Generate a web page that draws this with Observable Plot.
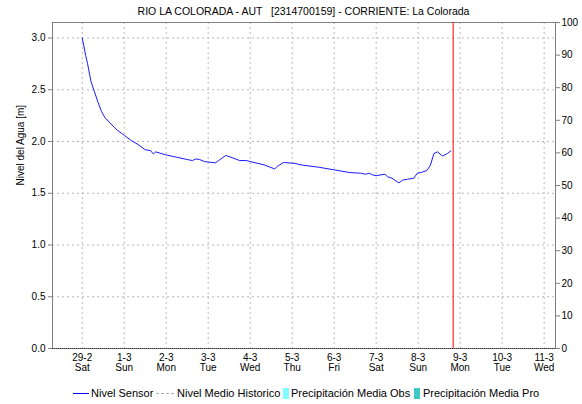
<!DOCTYPE html>
<html><head><meta charset="utf-8">
<script src="https://cdn.jsdelivr.net/npm/d3@7"></script>
<script src="https://cdn.jsdelivr.net/npm/@observablehq/plot@0.6"></script>
<style>
body{margin:0;background:#fff;font-family:"Liberation Sans",Arial,sans-serif;}
#wrap{position:relative;width:582px;height:404px;overflow:hidden;}
#title{position:absolute;top:5px;left:52px;width:503px;text-align:center;font-size:10.5px;white-space:pre;color:#000;line-height:12px;}
#chart{position:absolute;top:0;left:0;}
.lg{position:absolute;font-size:11px;line-height:12px;top:387px;color:#000;white-space:pre;}
.sw{position:absolute;}
</style></head>
<body><div id="wrap"><div id="title"></div><div id="chart"></div><div id="legend"></div></div>
<script>
const title = "RIO LA COLORADA - AUT   [2314700159] - CORRIENTE: La Colorada";
const yLabel = "Nivel del Agua [m]";
const times = ["2020-02-29T00:00","2020-02-29T02:00","2020-02-29T03:00","2020-02-29T05:00","2020-02-29T07:00","2020-02-29T09:00","2020-02-29T11:00","2020-02-29T13:00","2020-02-29T17:00","2020-02-29T20:00",
"2020-03-01T00:00","2020-03-01T04:00","2020-03-01T08:00","2020-03-01T12:00","2020-03-01T15:00","2020-03-01T16:40","2020-03-01T18:00",
"2020-03-02T00:00","2020-03-02T06:00","2020-03-02T12:00","2020-03-02T15:00","2020-03-02T17:00","2020-03-02T19:00","2020-03-02T22:00",
"2020-03-03T04:00","2020-03-03T06:00","2020-03-03T10:00","2020-03-03T13:00","2020-03-03T18:00","2020-03-03T22:00",
"2020-03-04T00:00","2020-03-04T08:00","2020-03-04T14:00","2020-03-04T15:30","2020-03-04T19:00",
"2020-03-05T01:00","2020-03-05T05:00","2020-03-05T15:00",
"2020-03-06T00:00","2020-03-06T09:00","2020-03-06T15:00","2020-03-06T18:00","2020-03-06T20:00","2020-03-06T22:00",
"2020-03-07T00:00","2020-03-07T05:00","2020-03-07T06:30","2020-03-07T09:00","2020-03-07T13:00","2020-03-07T15:00","2020-03-07T18:00","2020-03-07T21:30","2020-03-07T23:30",
"2020-03-08T01:30","2020-03-08T05:00","2020-03-08T07:00","2020-03-08T09:00","2020-03-08T11:00","2020-03-08T14:00","2020-03-08T16:40","2020-03-08T18:40"];
const levels = [3.00,2.83,2.755,2.58,2.48,2.38,2.29,2.23,2.16,2.11,
2.06,2.01,1.97,1.92,1.913,1.88,1.90,
1.87,1.848,1.826,1.816,1.832,1.826,1.806,
1.794,1.816,1.865,1.848,1.816,1.816,
1.806,1.774,1.735,1.76,1.797,
1.79,1.774,1.752,
1.726,1.70,1.694,1.684,1.694,1.677,
1.67,1.684,1.66,1.645,1.60,1.626,1.636,1.645,1.694,
1.70,1.72,1.77,1.884,1.90,1.86,1.884,1.91];
const nowLine = "2020-03-08T20:00";
const dayTickLabels = ["2020-02-29","2020-03-01","2020-03-02","2020-03-03","2020-03-04","2020-03-05","2020-03-06","2020-03-07","2020-03-08","2020-03-09","2020-03-10","2020-03-11"];
const weekdays = ["Sun","Mon","Tue","Wed","Thu","Fri","Sat"];
const leftTicks = [0,0.5,1.0,1.5,2.0,2.5,3.0];
const rightTicks = [0,10,20,30,40,50,60,70,80,90,100];
const legendLabels = ["Nivel Sensor","Nivel Medio Historico","Precipitación Media Obs","Precipitación Media Pro"];

const yMax = 3.15;
const data = times.map((t,i)=>({t:new Date(t+"Z"), v:levels[i]}));
const dayTicks = dayTickLabels.map(d=>new Date(d+"T00:00Z"));
const rightPos = rightTicks.map(d=>d*yMax/100);

document.getElementById("title").textContent = title;

const chart = Plot.plot({
  width:582, height:380,
  marginTop:22, marginBottom:32, marginLeft:52, marginRight:27,
  style:{fontFamily:"Liberation Sans, Arial, sans-serif", fontSize:"10px", color:"#000", background:"transparent", overflow:"visible"},
  x:{type:"utc", domain:[new Date("2020-02-28T07:00Z"), new Date("2020-03-11T06:30Z")]},
  y:{domain:[0,yMax]},
  marks:[
    Plot.gridX(dayTicks,{stroke:"#b8b8b8", strokeOpacity:1, strokeDasharray:"2,3"}),
    Plot.gridY(leftTicks.filter(d=>d>0),{stroke:"#b8b8b8", strokeOpacity:1, strokeDasharray:"2,3"}),
    Plot.frame({stroke:"#808080"}),
    Plot.ruleY([0],{stroke:"#333", strokeDasharray:"1,1"}),
    Plot.axisY(leftTicks,{anchor:"left", tickFormat:d=>d.toFixed(1), tickSize:4, tickPadding:3, label:null, stroke:"#808080"}),
    Plot.axisY(rightPos,{anchor:"right", tickFormat:d=>String(Math.round(d/yMax*100)), tickSize:4, tickPadding:2, label:null, stroke:"#808080"}),
    Plot.axisX(dayTicks,{anchor:"bottom", tickSize:0, tickPadding:5, label:null,
      tickFormat:d=>`${d.getUTCDate()}-${d.getUTCMonth()+1}\n${weekdays[d.getUTCDay()]}`}),
    Plot.text([yLabel],{frameAnchor:"left", dx:-32, rotate:-90, text:d=>d, fontSize:10}),
    Plot.line(data,{x:"t", y:"v", stroke:"#1a1aff", strokeWidth:1}),
    Plot.ruleX([new Date(nowLine+"Z")],{stroke:"#ff0000", strokeWidth:1})
  ]
});
document.getElementById("chart").appendChild(chart);

const lg = document.getElementById("legend");
const items = [
  {sw:'left:73px;top:393px;width:16px;height:0;border-top:1px solid #0000ff;', tx:91},
  {sw:'left:156px;top:393px;width:18px;height:0;border-top:1px dashed #b0b0b0;', tx:177},
  {sw:'left:283px;top:388px;width:6px;height:11px;background:#7fffff;', tx:291},
  {sw:'left:414px;top:388px;width:6px;height:11px;background:#40c8c8;', tx:423}
];
items.forEach((it,i)=>{
  const s=document.createElement("div"); s.className="sw"; s.style.cssText=it.sw; lg.appendChild(s);
  const t=document.createElement("div"); t.className="lg"; t.style.left=it.tx+"px"; t.textContent=legendLabels[i]; lg.appendChild(t);
});
</script></body></html>
